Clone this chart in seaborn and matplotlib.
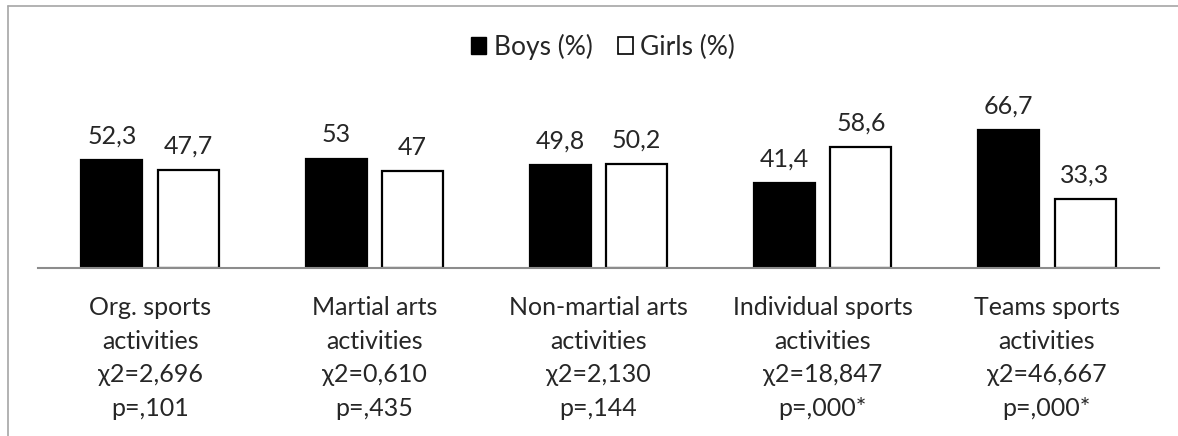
import matplotlib
matplotlib.use("Agg")
import matplotlib.pyplot as plt
from matplotlib.patches import Patch
from matplotlib.lines import Line2D
import seaborn as sns
import pandas as pd

categories = ["Org. sports\nactivities", "Martial arts\nactivities", "Non-martial arts\nactivities",
              "Individual sports\nactivities", "Teams sports\nactivities"]
chi2_labels = ["χ2=2,696", "χ2=0,610", "χ2=2,130", "χ2=18,847", "χ2=46,667"]
p_labels = ["p=,101", "p=,435", "p=,144", "p=,000*", "p=,000*"]
boys = [52.3, 53, 49.8, 41.4, 66.7]
girls = [47.7, 47, 50.2, 58.6, 33.3]
series_names = ["Boys (%)", "Girls (%)"]

sns.set_theme(style="white")
plt.rcParams['font.family'] = ['Lato', 'DejaVu Sans']

df = pd.DataFrame({
    "cat": categories * 2,
    "val": boys + girls,
    "sex": [series_names[0]] * 5 + [series_names[1]] * 5,
})

W, H = 1178, 436
fig = plt.figure(figsize=(W / 100, H / 100), dpi=100)
ax = fig.add_axes([38 / W, (H - 268) / H, (1159 - 38) / W, 165 / H])

sns.barplot(data=df, x="cat", y="val", hue="sex", order=categories, hue_order=series_names,
            palette={series_names[0]: "black", series_names[1]: "white"},
            edgecolor="black", linewidth=1.6, width=0.68, gap=0.2, legend=False, ax=ax,
            errorbar=None)

ax.set_ylim(0, 80)
ax.set_xlim(-0.5, 4.5)
for cont in ax.containers:
    labels = [f"{v:g}".replace(".", ",") for v in cont.datavalues]
    ax.bar_label(cont, labels=labels, padding=9, fontsize=18)

ticklabels = [f"{c}\n{x}\n{p}" for c, x, p in zip(categories, chi2_labels, p_labels)]
ax.set_xticks(range(5))
ax.set_xticklabels(ticklabels, fontsize=18, linespacing=1.57)
ax.tick_params(axis="x", length=0, pad=20)
ax.set_yticks([])
ax.set_xlabel("")
ax.set_ylabel("")
for s in ["top", "right", "left"]:
    ax.spines[s].set_visible(False)
ax.spines["bottom"].set_color("#8c8c8c")
ax.spines["bottom"].set_linewidth(1.5)

handles = [Patch(facecolor="black", edgecolor="black", label=series_names[0]),
           Patch(facecolor="white", edgecolor="black", linewidth=1.2, label=series_names[1])]
fig.legend(handles=handles, loc="center", bbox_to_anchor=(603 / W, 1 - 47 / H), ncol=2,
           frameon=False, fontsize=19, handlelength=0.6, handleheight=0.6,
           handletextpad=0.27, columnspacing=0.95)

fig.add_artist(Line2D([8 / W, 1], [1 - 6 / H, 1 - 6 / H], color="#a6a6a6", linewidth=1.2))
fig.add_artist(Line2D([8 / W, 8 / W], [0, 1 - 6 / H], color="#a6a6a6", linewidth=1.2))

fig.savefig("out.png", dpi=100)
